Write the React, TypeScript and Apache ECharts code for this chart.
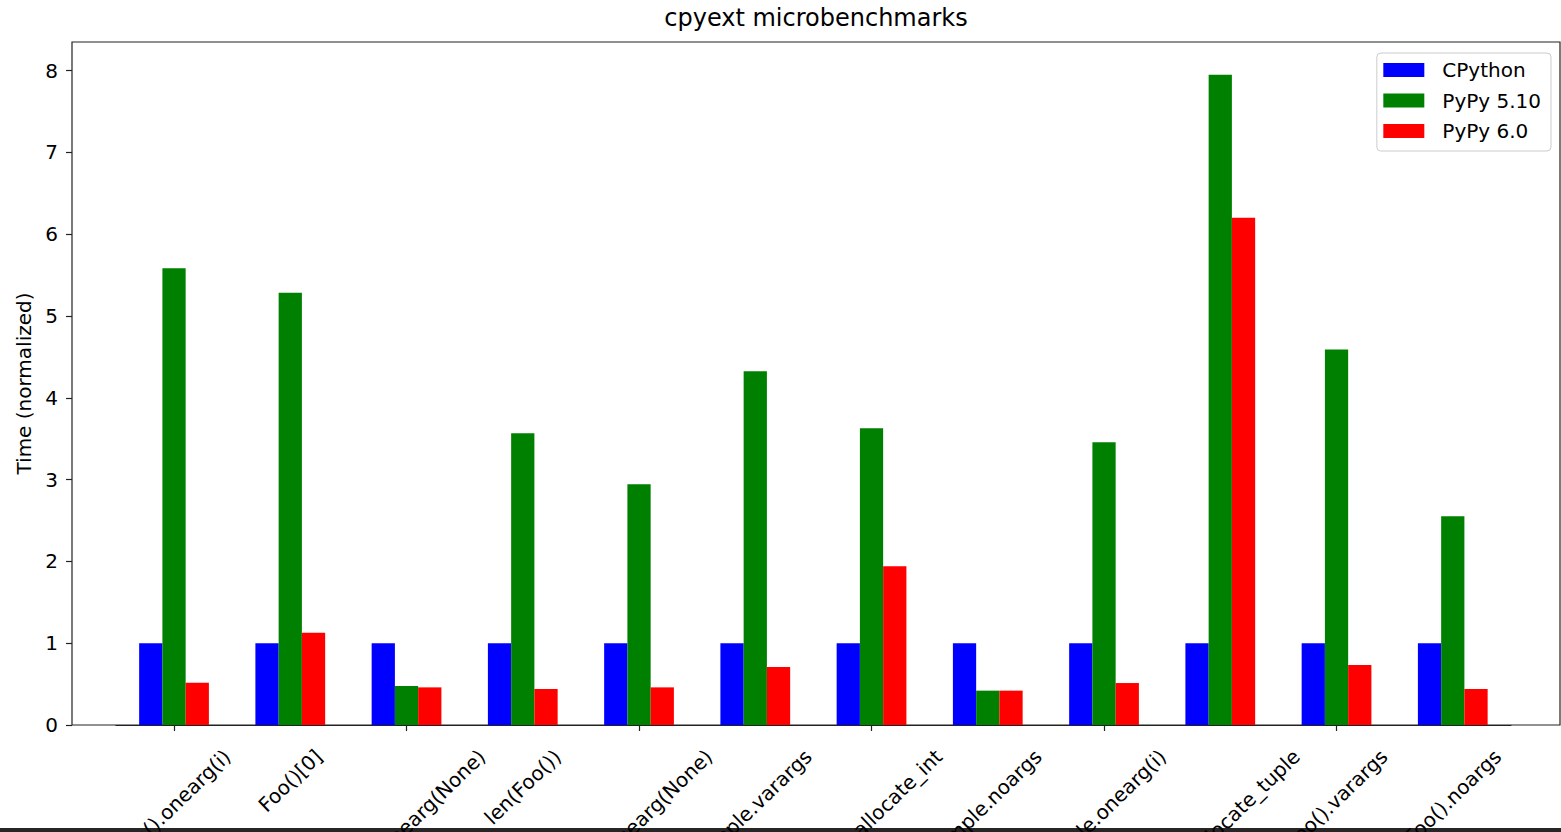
import React, { useEffect, useRef } from 'react';
import * as echarts from 'echarts';

const categories = [
  'Foo().onearg(i)',
  'Foo()[0]',
  'simple.onearg(None)',
  'len(Foo())',
  'Foo().onearg(None)',
  'simple.varargs',
  'simple.allocate_int',
  'simple.noargs',
  'simple.onearg(i)',
  'simple.allocate_tuple',
  'Foo().varargs',
  'Foo().noargs',
];

const seriesNames = ['CPython', 'PyPy 5.10', 'PyPy 6.0'];
const cpython = [1, 1, 1, 1, 1, 1, 1, 1, 1, 1, 1, 1];
const pypy510 = [5.585, 5.285, 0.476, 3.566, 2.943, 4.324, 3.627, 0.42, 3.457, 7.951, 4.592, 2.553];
const pypy60 = [0.517, 1.127, 0.46, 0.44, 0.46, 0.708, 1.942, 0.42, 0.513, 6.2, 0.733, 0.44];
const yTicks = [0, 1, 2, 3, 4, 5, 6, 7, 8];
const colors = ['#0000ff', '#008000', '#ff0000'];

const FONT = '"DejaVu Sans", sans-serif';
const LABEL_SIZE = 20;
const LABEL_LINE = 23;
const LABEL_ROTATE = 44;
const LABEL_PAD = 20;

export default function App() {
  const ref = useRef<HTMLDivElement>(null);

  useEffect(() => {
    const el = ref.current;
    if (!el) return;
    const chart = echarts.init(el, undefined, { renderer: 'svg' });

    const ctx = document.createElement('canvas').getContext('2d');
    if (ctx) ctx.font = `${LABEL_SIZE}px ${FONT}`;
    const th = (LABEL_ROTATE * Math.PI) / 180;
    const labelWidths = categories.map((c) => (ctx ? ctx.measureText(c).width : c.length * 11));

    const values = [cpython, pypy510, pypy60];

    const barSeries = seriesNames.map((name, i) => ({
      name,
      type: 'bar',
      xAxisIndex: 1,
      yAxisIndex: 1,
      data: values[i],
      barWidth: 23.25,
      barGap: '0%',
      itemStyle: { color: colors[i] },
      emphasis: { disabled: true },
    }));

    const labelSeries = {
      name: 'tick labels',
      type: 'custom',
      xAxisIndex: 1,
      yAxisIndex: 1,
      silent: true,
      clip: false,
      z: 20,
      data: categories.map((c, i) => [i, 0]),
      renderItem: (params: any, api: any) => {
        const idx = params.dataIndex;
        const p = api.coord([api.value(0), 0]);
        const w = labelWidths[idx];
        const H = w * Math.sin(th) + LABEL_LINE * Math.cos(th);
        return {
          type: 'text',
          x: p[0],
          y: p[1] + LABEL_PAD + H / 2,
          rotation: th,
          style: {
            text: categories[idx],
            fontSize: LABEL_SIZE,
            fontFamily: FONT,
            lineHeight: LABEL_LINE,
            fill: '#000',
            align: 'center',
            verticalAlign: 'middle',
          },
        };
      },
    };

    chart.setOption({
      animation: false,
      backgroundColor: '#ffffff',
      textStyle: { fontFamily: FONT },
      title: {
        text: 'cpyext microbenchmarks',
        left: 816,
        textAlign: 'center',
        top: 6,
        padding: 0,
        textStyle: { fontSize: 24, fontWeight: 'normal', color: '#000', fontFamily: FONT },
      },
      legend: {
        orient: 'vertical',
        right: 10,
        top: 53,
        itemWidth: 41,
        itemHeight: 14,
        itemGap: 10.5,
        padding: [7, 10, 10, 6.5],
        backgroundColor: 'rgba(255,255,255,0.8)',
        borderColor: '#cccccc',
        borderWidth: 1,
        borderRadius: 4,
        icon: 'rect',
        data: seriesNames,
        textStyle: {
          fontSize: 20,
          lineHeight: 20,
          color: '#000',
          fontFamily: FONT,
          padding: [0, 0, 0, 13],
        },
      },
      grid: [
        {
          left: 72,
          top: 42,
          right: 1,
          bottom: 107,
          show: true,
          borderColor: '#222',
          borderWidth: 1.2,
          backgroundColor: 'transparent',
          containLabel: false,
          outerBoundsMode: 'none',
        },
        {
          left: 115.9,
          top: 42,
          right: 50.1,
          bottom: 107,
          containLabel: false,
          outerBoundsMode: 'none',
        },
      ],
      xAxis: [
        {
          gridIndex: 0,
          type: 'value',
          min: 0,
          max: 1,
          show: false,
        },
        {
          gridIndex: 1,
          type: 'category',
          data: categories,
          boundaryGap: true,
          axisLine: { show: true, lineStyle: { color: '#222', width: 1.2 } },
          axisTick: {
            show: true,
            alignWithLabel: true,
            length: 6,
            inside: false,
            lineStyle: { color: '#222', width: 1.2 },
          },
          axisLabel: { show: false },
          splitLine: { show: false },
        },
      ],
      yAxis: [
        {
          gridIndex: 0,
          type: 'value',
          min: 0,
          max: 8.35,
          name: 'Time (normalized)',
          nameLocation: 'middle',
          nameGap: 38,
          nameTextStyle: { fontSize: 20, color: '#000', fontFamily: FONT },
          axisLine: { show: false },
          axisTick: {
            show: true,
            length: 6,
            customValues: yTicks,
            lineStyle: { color: '#222', width: 1.2 },
          },
          axisLabel: {
            customValues: yTicks,
            fontSize: 20,
            color: '#000',
            margin: 14,
            fontFamily: FONT,
          },
          splitLine: { show: false },
        },
        {
          gridIndex: 1,
          type: 'value',
          min: 0,
          max: 8.35,
          show: false,
          splitLine: { show: false },
        },
      ],
      series: [...barSeries, labelSeries],
      graphic: [
        {
          type: 'rect',
          left: 0,
          top: 828,
          shape: { x: 0, y: 0, width: 1561, height: 4 },
          style: { fill: '#262626' },
          silent: true,
        },
      ],
    });

    return () => {
      chart.dispose();
    };
  }, []);

  return (
    <div
      ref={ref}
      style={{ position: 'fixed', left: 0, top: 0, width: 1561, height: 832 }}
    />
  );
}
